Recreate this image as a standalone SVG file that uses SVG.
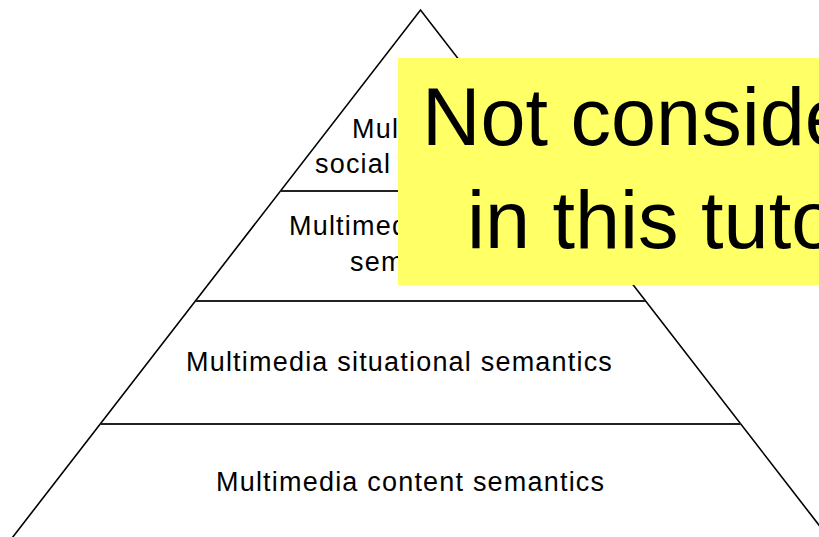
<svg xmlns="http://www.w3.org/2000/svg" width="819" height="537" viewBox="0 0 819 537">
<style>
.ln{stroke:#000;stroke-width:1.6;fill:none}
.hl{stroke:#222;stroke-width:2;fill:none}
.t{font-family:"Liberation Sans",Arial,sans-serif;font-size:27px;letter-spacing:1.2px;fill:#000}
.big{font-family:"Liberation Sans",Arial,sans-serif;font-size:81px;fill:#000}
</style>
<rect x="0" y="0" width="819" height="537" fill="#fff"/>
<g id="connectors">
<path class="ln" d="M10.5,540 L420.5,10 L830.5,540"/>
<line class="hl" x1="280.5" y1="191" x2="560" y2="191"/>
<line class="hl" x1="196" y1="301" x2="645" y2="301"/>
<line class="hl" x1="101" y1="424" x2="741" y2="424"/>
</g>
<g id="level-social">
<text class="t" x="352" y="138">Multimedia</text>
<text class="t" x="315" y="173">social</text>
</g>
<g id="level-second">
<text class="t" x="289" y="235">Multimedia</text>
<text class="t" x="350" y="271">semantics</text>
</g>
<g id="level-situational">
<text class="t" x="186" y="371">Multimedia situational semantics</text>
</g>
<g id="level-content">
<text class="t" x="216" y="491">Multimedia content semantics</text>
</g>
<g id="note">
<rect x="398" y="58" width="430" height="227" fill="#ffff66"/>
<text class="big" x="422" y="145">Not considered</text>
<text class="big" x="467" y="248">in this tutorial</text>
</g>
</svg>
